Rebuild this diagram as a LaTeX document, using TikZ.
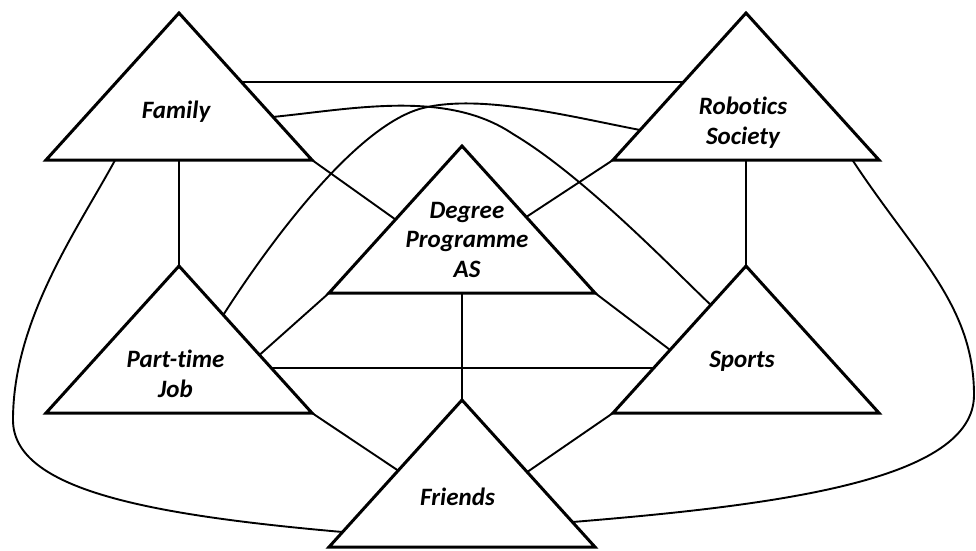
\documentclass[tikz,border=0pt]{standalone}
\usepackage{fontspec}
\setmainfont{Carlito}[Ligatures=NoCommon]
\usetikzlibrary{calc}
\begin{document}
\begin{tikzpicture}[x=1pt,y=-1pt,
  triline/.style={line width=3pt, line join=miter, fill=white},
  link/.style={line width=1.9pt},
  lbl/.style={font=\fontsize{25}{29.5}\selectfont\bfseries\itshape, align=center, inner sep=0pt}
]
\useasboundingbox (0,0) rectangle (976,550);

% base centre of each of the six triangles
\coordinate (fam-bm) at (179,160);
\coordinate (rob-bm) at (746,160);
\coordinate (deg-bm) at (462,293);
\coordinate (job-bm) at (179,413);
\coordinate (spo-bm) at (746,413);
\coordinate (fri-bm) at (462,547);
\foreach \t in {fam,rob,deg,job,spo,fri}{
  \coordinate (\t-apex) at ($(\t-bm)+(0,-147)$);
  \coordinate (\t-bl) at ($(\t-bm)+(-133,0)$);
  \coordinate (\t-br) at ($(\t-bm)+(133,0)$);
}

% straight links
\draw[link] ($(fam-apex)!0.469!(fam-br)$) -- ($(rob-apex)!0.469!(rob-bl)$);
\draw[link] (fam-br) -- ($(deg-apex)!0.5!(deg-bl)$);
\draw[link] ($(deg-apex)!0.483!(deg-br)$) -- (rob-bl);
\draw[link] (fam-bm) -- (job-apex);
\draw[link] (rob-bm) -- (spo-apex);
\draw[link] ($(job-apex)!0.605!(job-br)$) -- (deg-bl);
\draw[link] ($(job-apex)!0.694!(job-br)$) -- ($(spo-apex)!0.694!(spo-bl)$);
\draw[link] (job-br) -- ($(fri-apex)!0.48!(fri-bl)$);
\draw[link] (deg-bm) -- (fri-apex);
\draw[link] (deg-br) -- ($(spo-apex)!0.571!(spo-bl)$);
\draw[link] ($(fri-apex)!0.49!(fri-br)$) -- (spo-bl);

% curved links
\draw[link] ($(fam-apex)!0.707!(fam-br)$)
  .. controls (353,109) and (446.6,89.2) .. (513,134)
  .. controls (582,175) and (667,263) .. ($(spo-apex)!0.265!(spo-bl)$);
\draw[link] ($(job-apex)!0.333!(job-br)$)
  .. controls (266,248) and (355,125) .. (423,108)
  .. controls (481,93.6) and (571,116.7) .. ($(rob-apex)!0.796!(rob-bl)$);
\draw[link] ($(fam-bl)!0.26!(fam-br)$)
  .. controls (77,230) and (13,320) .. (13,420)
  .. controls (13,490) and (150,515) .. ($(fri-apex)!0.898!(fri-bl)$);
\draw[link] ($(rob-bl)!0.9!(rob-br)$)
  .. controls (915,255) and (974,305) .. (974,395)
  .. controls (974,480) and (780,505) .. ($(fri-apex)!0.83!(fri-br)$);

% triangles
\foreach \t in {fam,rob,deg,job,spo,fri}{
  \draw[triline] (\t-bl) -- (\t-apex) -- (\t-br) -- cycle;
}

% labels
\node[lbl] (famtext) at (176,111.5) {Family};
\node[lbl] (robtext) at (743,122.5) {Robotics\\Society};
\node[lbl] (degtext) at (467,239.5) {Degree\\Programme\\AS};
\node[lbl] (jobtext) at (175.5,374) {Part-time\\Job};
\node[lbl] (spotext) at (742,361.5) {Sports};
\node[lbl] (fritext) at (457.5,497) {Friends};
\end{tikzpicture}
\end{document}
